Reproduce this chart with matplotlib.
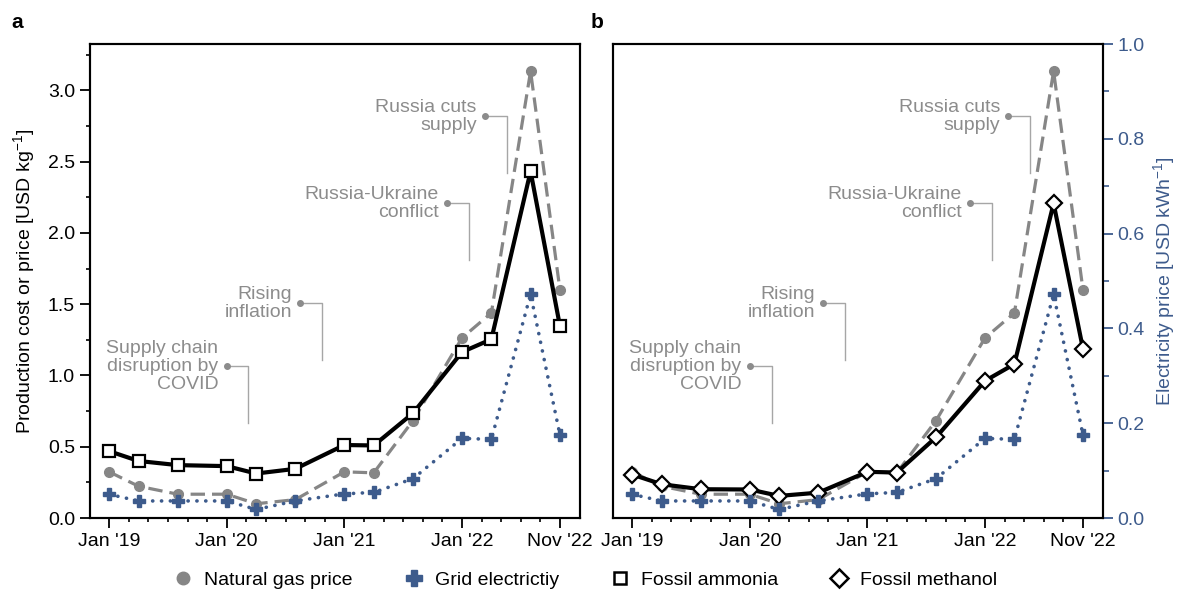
import matplotlib
matplotlib.use('Agg')
import matplotlib.pyplot as plt
from matplotlib.lines import Line2D
from matplotlib.ticker import MultipleLocator, FixedLocator

plt.rcParams['font.family'] = ['Liberation Sans', 'DejaVu Sans']
plt.rcParams['font.size'] = 14
plt.rcParams['mathtext.fontset'] = 'custom'
plt.rcParams['mathtext.rm'] = 'Liberation Sans'
plt.rcParams['mathtext.it'] = 'Liberation Sans:italic'
plt.rcParams['mathtext.bf'] = 'Liberation Sans:bold'

# ---- data (months since Jan 2019) ----
months = [0, 3, 7, 12, 15, 19, 24, 27, 31, 36, 39, 43, 46]
gas_price = [0.324, 0.223, 0.167, 0.167, 0.100, 0.129, 0.324, 0.317, 0.683, 1.263, 1.439, 3.134, 1.599]
grid_elec = [0.050, 0.036, 0.036, 0.036, 0.018, 0.036, 0.051, 0.054, 0.083, 0.168, 0.166, 0.472, 0.175]
ammonia = [0.469, 0.400, 0.371, 0.364, 0.312, 0.345, 0.512, 0.509, 0.735, 1.164, 1.254, 2.432, 1.345]
methanol = [0.305, 0.237, 0.202, 0.200, 0.155, 0.178, 0.324, 0.319, 0.566, 0.962, 1.080, 2.207, 1.185]

xtick_pos = [0, 12, 24, 36, 46]
xtick_labels = ["Jan '19", "Jan '20", "Jan '21", "Jan '22", "Nov '22"]

# (text, dot x, dot y, corner x, end y)
events = [
    ("Supply chain\ndisruption by\nCOVID", 12.0, 1.063, 14.22, 0.664),
    ("Rising\ninflation", 19.52, 1.505, 21.72, 1.106),
    ("Russia-Ukraine\nconflict", 34.49, 2.207, 36.76, 1.81),
    ("Russia cuts\nsupply", 38.37, 2.817, 40.57, 2.42),
]

GAS_C = '#868686'
ELEC_C = '#3d5b8c'
ANN_TEXT_C = '#8c8c8c'
ANN_LINE_C = '#a6a6a6'

fig = plt.figure(figsize=(11.78, 5.91), dpi=100)
axA = fig.add_axes([0.0760, 0.1235, 0.416, 0.802])
axB = fig.add_axes([0.5200, 0.1235, 0.416, 0.802])

def style_common(ax):
    ax.set_xlim(-2, 48)
    ax.set_ylim(0, 3.325)
    for s in ax.spines.values():
        s.set_linewidth(1.5)
    ax.xaxis.set_major_locator(FixedLocator(xtick_pos))
    ax.set_xticklabels(xtick_labels)
    ax.xaxis.set_minor_locator(FixedLocator(list(range(0, 47, 2))))
    ax.tick_params(axis='both', which='major', length=7, width=1.3, labelsize=14)
    ax.tick_params(axis='both', which='minor', length=3, width=1.2)

def draw_panel(ax, product, marker, ms, label_left):
    style_common(ax)
    for text, dx, dy, cx, ey in events:
        ax.plot([dx, cx, cx], [dy, dy, ey], color=ANN_LINE_C, lw=1.0, zorder=1)
        ax.plot([dx], [dy], 'o', color=ANN_TEXT_C, ms=4, zorder=1)
        ax.annotate(text, (dx, dy), xytext=(-6, 0), textcoords='offset points',
                    ha='right', va='center', multialignment='right',
                    color=ANN_TEXT_C, fontsize=14, linespacing=1.05)
    ax.plot(months, gas_price, color=GAS_C, lw=2.3, ls=(0, (4.5, 2.2)),
            marker='o', ms=7, mfc=GAS_C, mec=GAS_C, zorder=3)
    ax.plot(months, product, color='black', lw=3.0, marker=marker, ms=ms,
            mfc='white', mec='black', mew=1.6, zorder=5)
    axr = ax.twinx()
    axr.set_ylim(0, 1.0)
    axr.set_xlim(-2, 48)
    for s in axr.spines.values():
        s.set_linewidth(1.5)
    axr.plot(months, grid_elec, color=ELEC_C, lw=2.6, ls=(0, (0.05, 2.4)),
             dash_capstyle='round', marker='P', ms=9, mfc=ELEC_C, mec=ELEC_C, zorder=4)
    if label_left:
        ax.yaxis.set_major_locator(MultipleLocator(0.5))
        ax.yaxis.set_minor_locator(MultipleLocator(0.25))
        ax.yaxis.set_major_formatter(matplotlib.ticker.FormatStrFormatter('%.1f'))
        ax.set_ylabel('Production cost or price [USD kg$^{-1}$]', fontsize=14, labelpad=8)
    else:
        ax.tick_params(axis='y', which='both', left=False, labelleft=False,
                       right=False, labelright=False)
    return axr

axrA = draw_panel(axA, ammonia, 's', 8, True)
axrA.tick_params(axis='y', which='both', right=False, labelright=False)

axrB = draw_panel(axB, methanol, 'D', 8, False)
axrB.yaxis.set_major_locator(MultipleLocator(0.2))
axrB.yaxis.set_minor_locator(MultipleLocator(0.1))
axrB.yaxis.set_major_formatter(matplotlib.ticker.FormatStrFormatter('%.1f'))
axrB.tick_params(axis='y', which='major', length=7, width=1.3, colors=ELEC_C, labelsize=14)
axrB.tick_params(axis='y', which='minor', length=4, width=1.2, colors=ELEC_C)
axrB.set_ylabel('Electricity price [USD kWh$^{-1}$]', color=ELEC_C, fontsize=14, labelpad=5)

fig.text(17 / 1178, 1 - 23 / 591, 'a', fontsize=15, fontweight='bold', ha='center', va='center')
fig.text(597 / 1178, 1 - 23 / 591, 'b', fontsize=15, fontweight='bold', ha='center', va='center')

handles = [
    Line2D([], [], ls='none', marker='o', ms=9, color=GAS_C),
    Line2D([], [], ls='none', marker='P', ms=11, color=ELEC_C),
    Line2D([], [], ls='none', marker='s', ms=9, mfc='white', mec='black', mew=1.8),
    Line2D([], [], ls='none', marker='D', ms=9, mfc='white', mec='black', mew=1.8),
]
labels = ['Natural gas price', 'Grid electrictiy', 'Fossil ammonia', 'Fossil methanol']
fig.legend(handles, labels, loc='center', bbox_to_anchor=(0.497, 0.018), ncol=4,
           frameon=False, handlelength=1.0, handletextpad=0.58, columnspacing=2.64,
           fontsize=14, borderpad=0, borderaxespad=0)

fig.savefig('out.png', dpi=100)
